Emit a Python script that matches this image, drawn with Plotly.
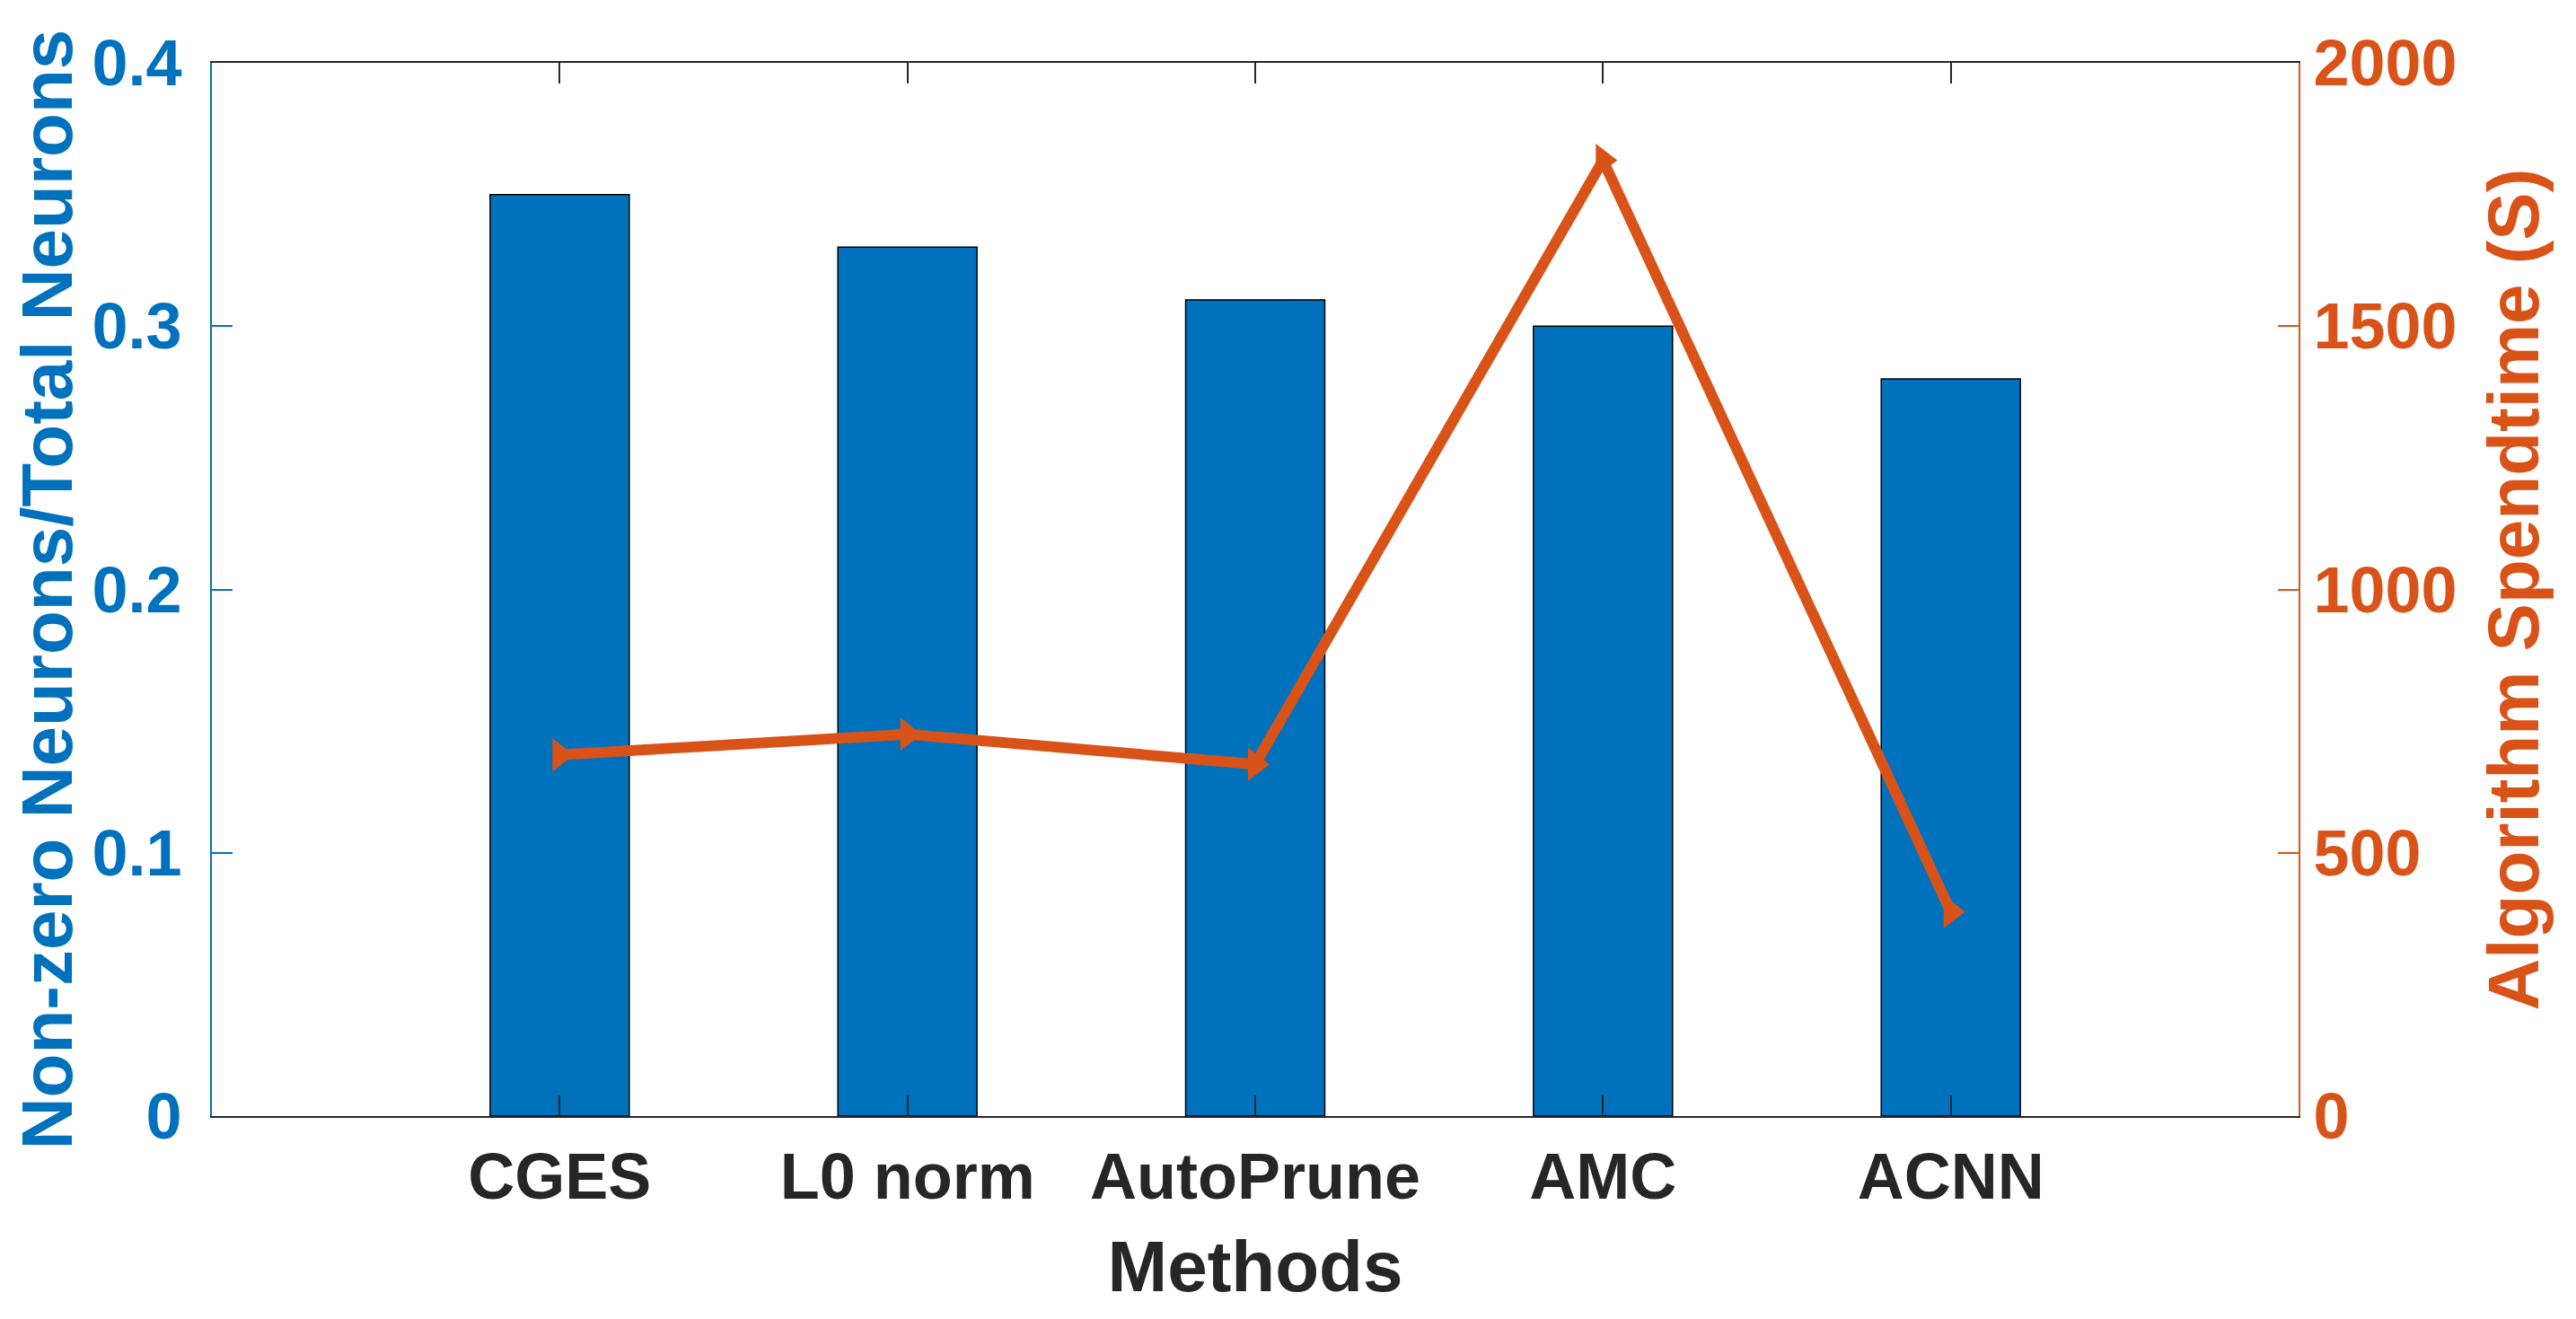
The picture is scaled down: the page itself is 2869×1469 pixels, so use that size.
import plotly.graph_objects as go

methods = ["CGES", "L0 norm", "AutoPrune", "AMC", "ACNN"]
positions = [1, 2, 3, 4, 5]
neuron_ratio = [0.35, 0.33, 0.31, 0.30, 0.28]
spend_time = [686, 725, 668, 1815, 388]

BLUE = "#0072BD"
ORANGE = "#D95319"
DARK = "#262626"
FONT = "Liberation Sans, Arial, Helvetica, sans-serif"

fig = go.Figure()
fig.add_trace(go.Bar(
    x=positions, y=neuron_ratio, width=0.4,
    marker=dict(color=BLUE, line=dict(color="black", width=1.5)),
    yaxis="y", name="Non-zero Neurons/Total Neurons", showlegend=False,
))
fig.add_trace(go.Scatter(
    x=positions, y=spend_time, mode="lines+markers",
    line=dict(color=ORANGE, width=12),
    marker=dict(symbol="triangle-right", size=32, color=ORANGE),
    yaxis="y2", name="Algorithm Spendtime (S)", showlegend=False,
))

fig.update_layout(
    width=2869, height=1469,
    margin=dict(l=228, r=317, t=62, b=234),
    plot_bgcolor="white", paper_bgcolor="white",
    font=dict(family=FONT, size=72, color=DARK),
    xaxis=dict(
        range=[0, 6], tickmode="array", tickvals=positions, ticktext=methods,
        showgrid=False, zeroline=False,
        showline=True, linecolor=DARK, linewidth=2, mirror="ticks",
        ticks="inside", ticklen=23, tickwidth=2, tickcolor=DARK,
        tickfont=dict(family=FONT, size=72, color=DARK, weight="bold"),
        ticklabelstandoff=4,
        title=dict(text="Methods", standoff=33,
                   font=dict(family=FONT, size=80, color=DARK, weight="bold")),
    ),
    yaxis=dict(
        range=[0, 0.4], dtick=0.1, tick0=0,
        showgrid=False, zeroline=False,
        showline=True, linecolor=BLUE, linewidth=2,
        ticks="inside", ticklen=23, tickwidth=2, tickcolor=BLUE,
        tickfont=dict(family=FONT, size=72, color=BLUE, weight="bold"),
        ticklabelstandoff=17,
        title=dict(text="Non-zero Neurons/Total Neurons", standoff=0,
                   font=dict(family=FONT, size=80, color=BLUE, weight="bold")),
    ),
    yaxis2=dict(
        range=[0, 2000], dtick=500, tick0=0, overlaying="y", side="right",
        showgrid=False, zeroline=False,
        showline=True, linecolor=ORANGE, linewidth=2,
        ticks="inside", ticklen=23, tickwidth=2, tickcolor=ORANGE,
        tickfont=dict(family=FONT, size=72, color=ORANGE, weight="bold"),
        ticklabelstandoff=0,
        title=dict(text="Algorithm Spendtime (S)", standoff=35,
                   font=dict(family=FONT, size=80, color=ORANGE, weight="bold")),
    ),
)

fig.write_html("out.html")
